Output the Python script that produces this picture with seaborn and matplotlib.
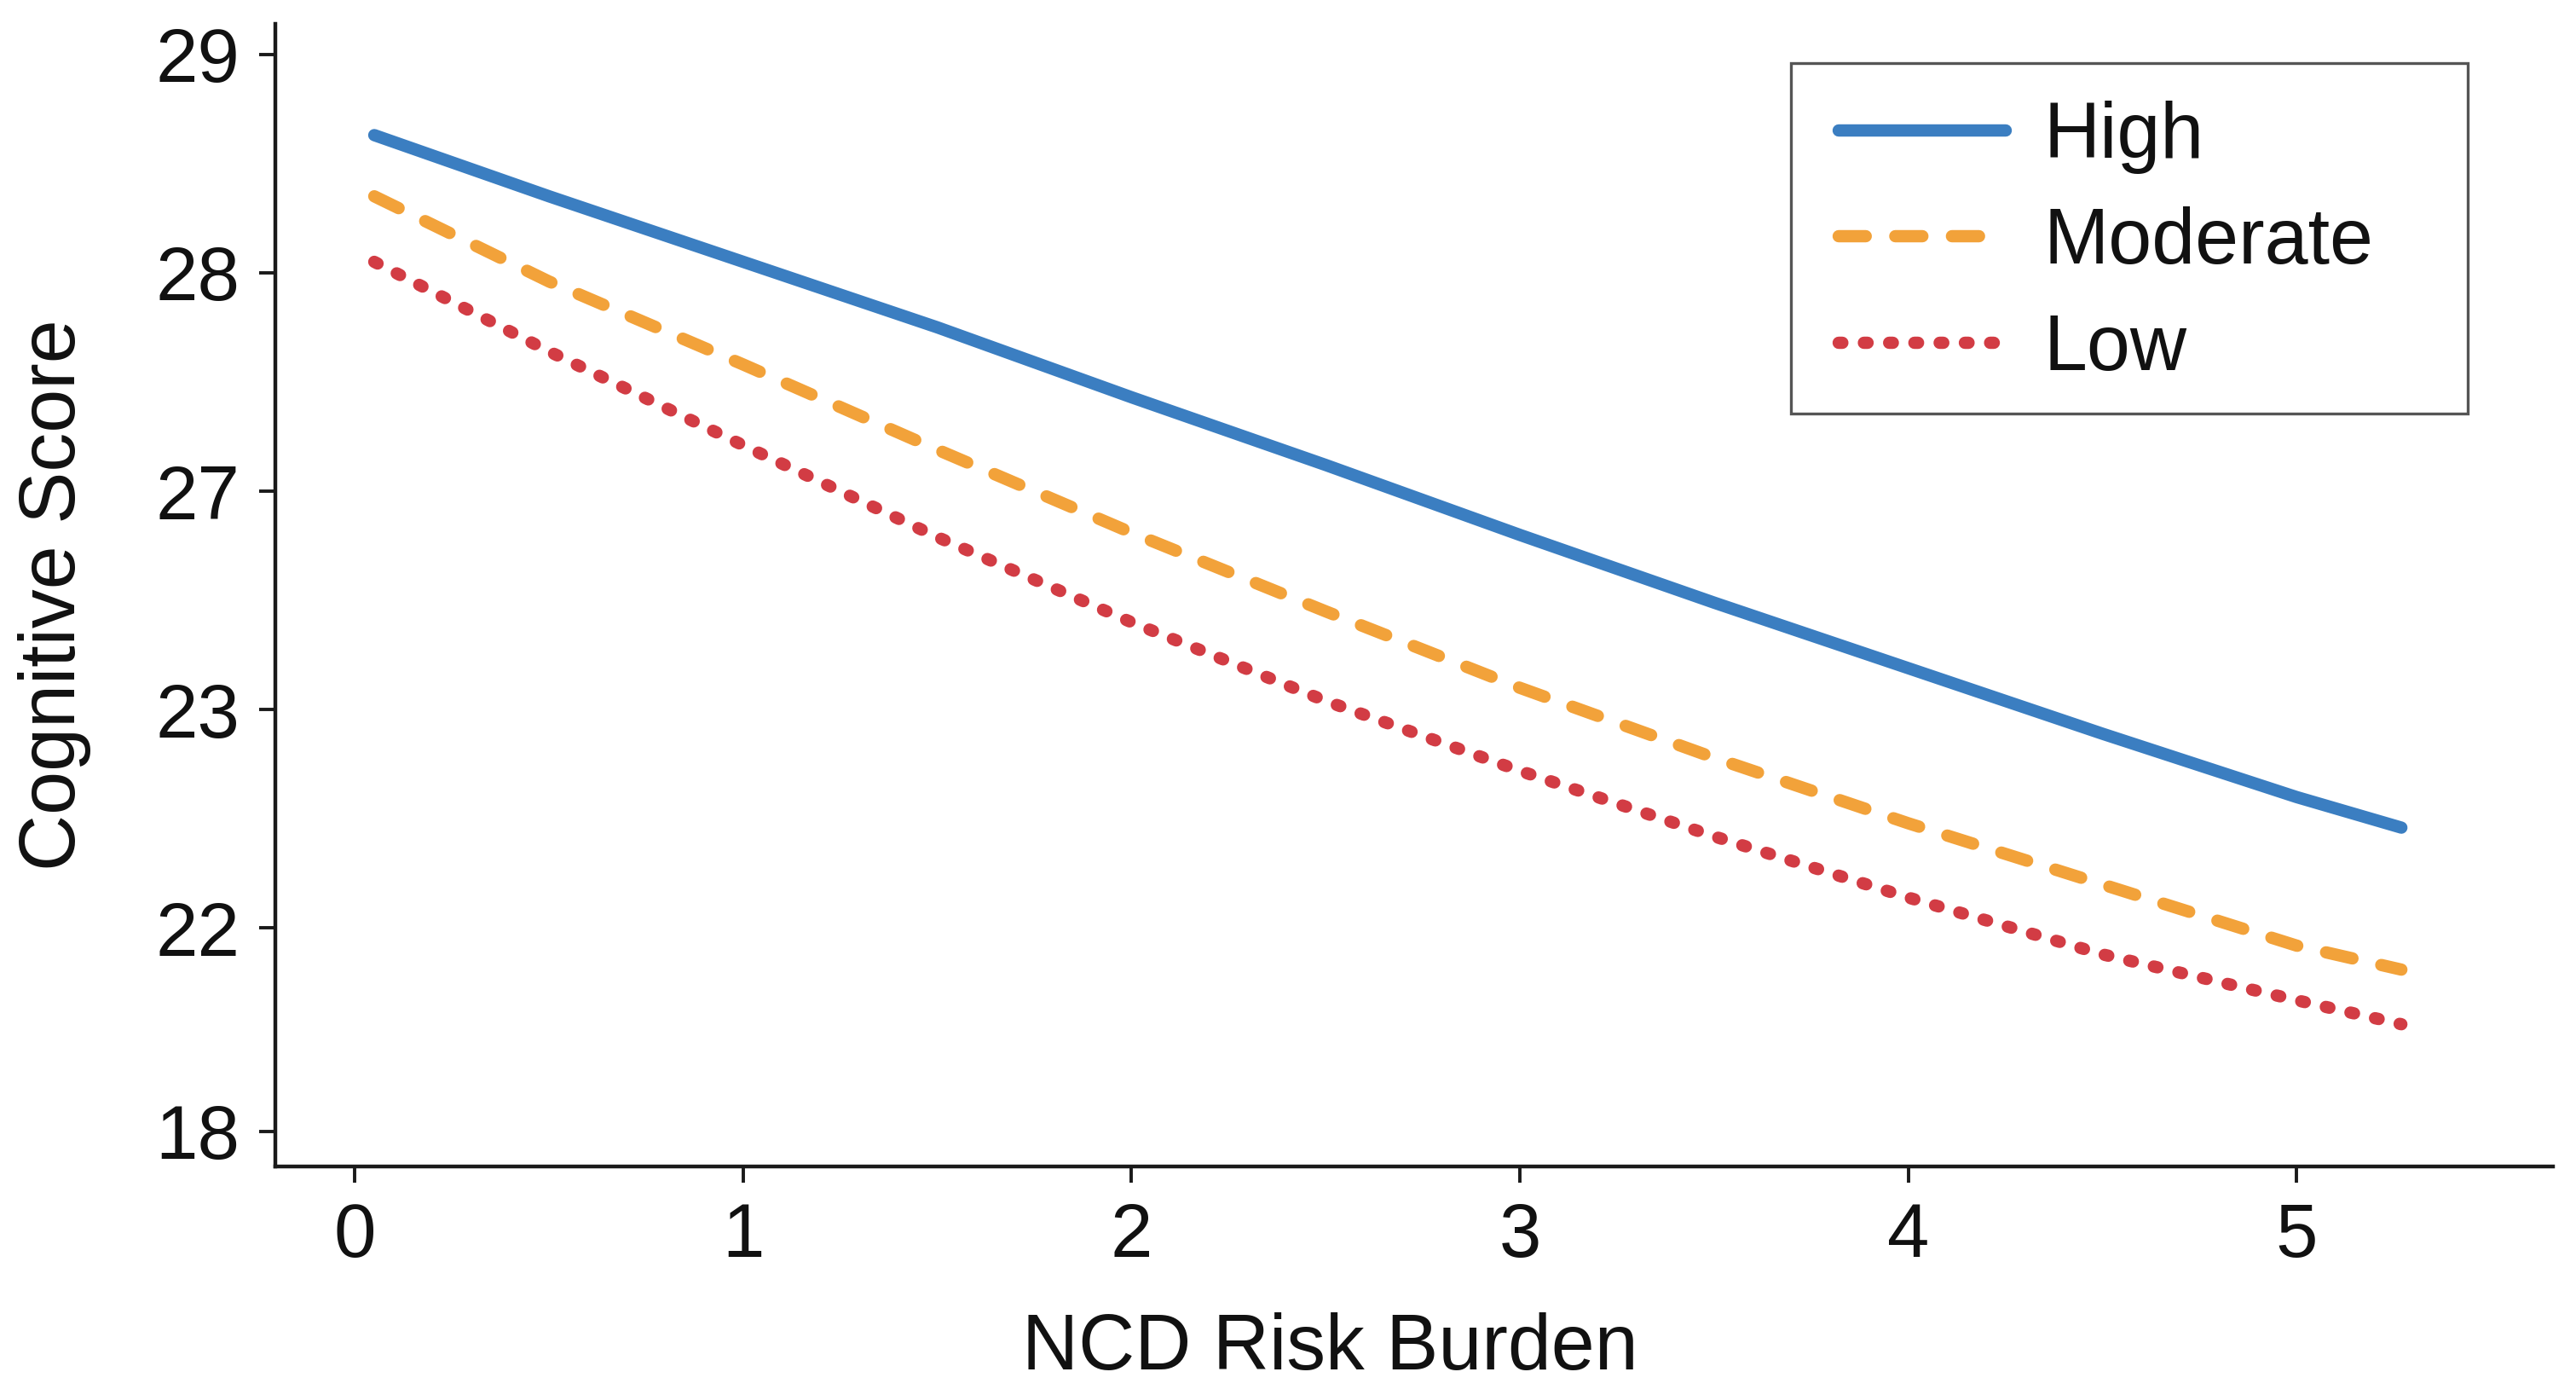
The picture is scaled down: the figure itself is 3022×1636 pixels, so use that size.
import numpy as np
import pandas as pd
import matplotlib
matplotlib.use("Agg")
import matplotlib.pyplot as plt
from matplotlib.patches import Rectangle
import seaborn as sns

# values, y given in axis-position units (tick 18 -> ~0, 29 -> 5)
risk_burden = [0.05, 0.5, 1.0, 1.5, 2.0, 2.5, 3.0, 3.5, 4.0, 4.5, 5.0, 5.27]
high = [4.63, 4.35, 4.05, 3.75, 3.43, 3.12, 2.80, 2.49, 2.19, 1.89, 1.60, 1.46]
moderate = [4.35, 3.96, 3.58, 3.19, 2.81, 2.45, 2.10, 1.78, 1.48, 1.20, 0.92, 0.81]
low = [4.05, 3.64, 3.21, 2.79, 2.40, 2.04, 1.72, 1.42, 1.14, 0.88, 0.67, 0.56]

groups = ["High", "Moderate", "Low"]
ytick_labels = ["18", "22", "23", "27", "28", "29"]
ytick_pos = [0.07, 1, 2, 3, 4, 5]
xticks = [0, 1, 2, 3, 4, 5]

df = pd.DataFrame({
    "NCD Risk Burden": risk_burden * 3,
    "Cognitive Score": high + moderate + low,
    "group": np.repeat(groups, len(risk_burden)),
})

sns.set_style("ticks")
plt.rcParams["font.family"] = ["Liberation Sans", "DejaVu Sans"]
plt.rcParams["lines.dash_capstyle"] = "round"
plt.rcParams["lines.solid_capstyle"] = "round"

fig = plt.figure(figsize=(15.11, 8.18), dpi=200)
ax = fig.add_axes([0.107, 0.164, 0.884, 0.819])

palette = {"High": "#3b7ec1", "Moderate": "#f2a23a", "Low": "#d23c44"}
dashes = {"High": "", "Moderate": (2.2, 2.4), "Low": (0.3, 1.75)}

sns.lineplot(data=df, x="NCD Risk Burden", y="Cognitive Score", hue="group",
             style="group", palette=palette, dashes=dashes, linewidth=5.2, ax=ax)

ax.set_xlim(-0.204, 5.66)
ax.set_ylim(-0.09, 5.14)
ax.set_xticks(xticks)
ax.set_yticks(ytick_pos)
ax.set_yticklabels(ytick_labels)
ax.tick_params(labelsize=32, length=7, width=1.4, color="#1a1a1a",
               labelcolor="#111111", pad=8)
for s in ["top", "right"]:
    ax.spines[s].set_visible(False)
for s in ["left", "bottom"]:
    ax.spines[s].set_linewidth(1.6)
    ax.spines[s].set_color("#1a1a1a")

ax.set_xlabel("NCD Risk Burden", fontsize=33, color="#111111")
ax.set_ylabel("Cognitive Score", fontsize=33, color="#111111")
ax.xaxis.set_label_coords(0.463, -0.128)
ax.yaxis.set_label_coords(-0.081, 0.5)

# legend without its own frame, box drawn separately (wider right margin as in the original)
leg = ax.legend(title=None, loc="upper left", bbox_to_anchor=(0.6864, 0.933),
                borderaxespad=0, borderpad=0, fontsize=33, frameon=False,
                handlelength=2.14, handletextpad=0.48, labelspacing=0.42)
for line in leg.get_lines():
    line.set_linewidth(5.2)
for t in leg.get_texts():
    t.set_color("#111111")
ax.add_patch(Rectangle((0.6654, 0.659), 0.9626 - 0.6654, 0.9657 - 0.659,
                       transform=ax.transAxes, fill=False, edgecolor="#555555",
                       linewidth=1.2, zorder=5, clip_on=False))

fig.savefig("out.png", dpi=200, facecolor="white")
